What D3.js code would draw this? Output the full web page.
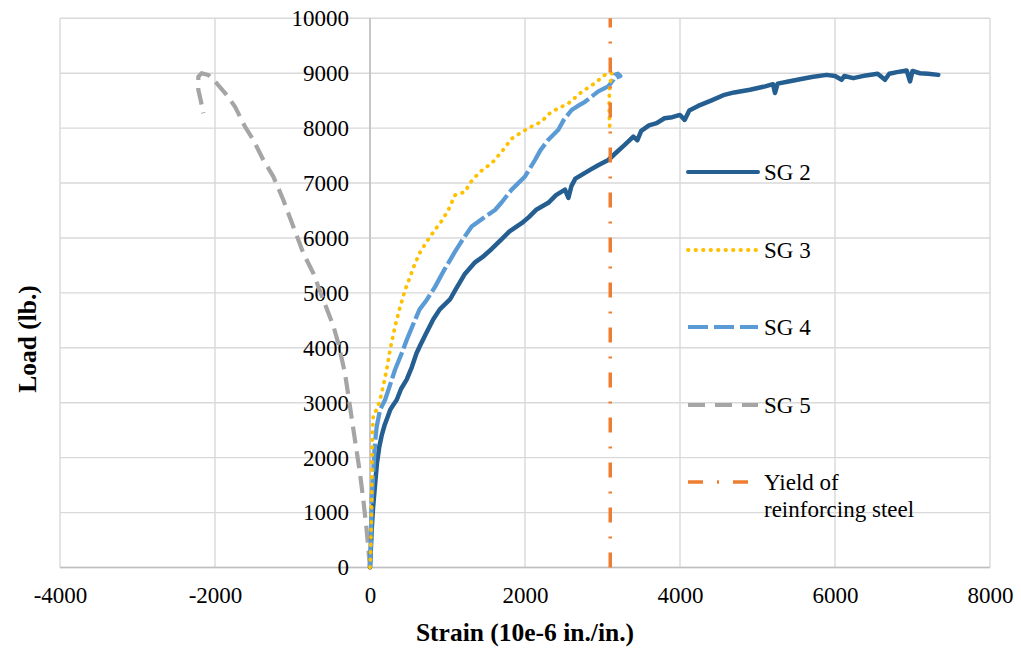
<!DOCTYPE html>
<html>
<head>
<meta charset="utf-8">
<script src="https://cdn.jsdelivr.net/npm/d3@7"></script>
<style>
  html, body { margin: 0; padding: 0; background: #ffffff; }
  svg { display: block; }
</style>
</head>
<body>
<svg id="chart" width="1021" height="656"></svg>
<script>
// ---- Data ----
const xTicks = [-4000, -2000, 0, 2000, 4000, 6000, 8000];
const yTicks = [0, 1000, 2000, 3000, 4000, 5000, 6000, 7000, 8000, 9000, 10000];
const seriesNames = ["SG 2", "SG 3", "SG 4", "SG 5"];
const yieldLabel = ["Yield of", "reinforcing steel"];
const yieldStrain = 3100;

const sg2Strain = [0,10,22,40,65,90,120,150,190,230,260,300,344,400,473,540,600,650,720,817,900,1032,1100,1226,1350,1450,1570,1700,1800,1957,2050,2150,2301,2400,2516,2560,2600,2650,2731,2850,2950,3075,3150,3290,3398,3450,3500,3600,3699,3800,3900,4000,4060,4120,4258,4400,4559,4700,4903,5100,5200,5226,5260,5400,5548,5700,5892,6000,6086,6120,6236,6400,6550,6645,6700,6800,6925,6968,7000,7097,7200,7333];
const sg2Load   = [0,300,700,1100,1500,1900,2200,2400,2600,2750,2870,2960,3050,3250,3420,3650,3900,4050,4250,4520,4700,4880,5050,5350,5550,5650,5800,5980,6120,6270,6380,6520,6640,6780,6880,6730,6950,7080,7150,7250,7330,7420,7520,7700,7845,7780,7950,8050,8090,8180,8200,8240,8150,8320,8420,8500,8600,8650,8700,8760,8800,8640,8810,8850,8890,8930,8970,8950,8880,8950,8910,8960,8990,8880,8990,9020,9050,8850,9040,9000,8990,8970];

const sg3Strain = [0,10,18,22,26,30,43,86,129,170,215,258,323,380,452,520,581,650,731,839,920,1011,1097,1226,1290,1355,1450,1570,1699,1828,1950,2043,2215,2300,2387,2559,2650,2731,2903,3032,3118,3090,3085,3090,3097];
const sg3Load   = [0,400,900,1300,1900,2400,2800,2870,3050,3300,3600,3960,4390,4700,5050,5300,5540,5750,5930,6150,6300,6510,6780,6840,7000,7110,7240,7360,7570,7810,7920,8000,8120,8250,8330,8450,8560,8660,8820,8970,9000,8700,8400,8100,7970];

const sg4Strain = [0,12,22,40,56,70,86,129,194,260,323,409,473,581,640,731,839,950,1097,1200,1312,1450,1613,1700,1828,2000,2129,2200,2301,2430,2500,2602,2700,2774,2946,3075,3140,3161,3200,3230,3180];
const sg4Load   = [0,500,1230,1700,2080,2350,2560,2870,3050,3330,3600,3900,4140,4510,4700,4870,5110,5400,5750,5980,6210,6350,6510,6650,6880,7120,7420,7600,7790,7970,8150,8330,8420,8480,8670,8760,8880,8970,8990,8950,8920];

const sg5Strain = [0,-43,-86,-129,-194,-258,-323,-409,-473,-602,-731,-860,-989,-1118,-1247,-1376,-1505,-1613,-1742,-1849,-1978,-2086,-2172,-2215,-2215,-2185,-2150];
const sg5Load   = [0,683,1229,1715,2322,2928,3536,4082,4400,4871,5357,5722,6206,6692,7117,7421,7785,8027,8391,8604,8817,8969,9000,8938,8695,8513,8271];

// ---- Layout ----
const W = 1021, H = 656;
const plot = { left: 60, right: 990, top: 18.3, bottom: 567.5 };
const svg = d3.select("#chart");
svg.append("rect").attr("width", W).attr("height", H).attr("fill", "#ffffff");

const x = d3.scaleLinear().domain([-4000, 8000]).range([plot.left, plot.right]);
const y = d3.scaleLinear().domain([0, 10000]).range([plot.bottom, plot.top]);

const FONT = "'Liberation Serif', 'Times New Roman', serif";

// gridlines
const grid = svg.append("g");
grid.selectAll("line.vg").data(xTicks).join("line")
  .attr("x1", d => x(d)).attr("x2", d => x(d))
  .attr("y1", plot.top).attr("y2", plot.bottom)
  .attr("stroke", "#d9d9d9").attr("stroke-width", 1.4);
grid.selectAll("line.hg").data(yTicks).join("line")
  .attr("x1", plot.left).attr("x2", plot.right)
  .attr("y1", d => y(d)).attr("y2", d => y(d))
  .attr("stroke", "#d9d9d9").attr("stroke-width", 1.4);

// axis lines
svg.append("line").attr("x1", x(0)).attr("x2", x(0)).attr("y1", plot.top).attr("y2", plot.bottom)
  .attr("stroke", "#bfbfbf").attr("stroke-width", 1.6);
svg.append("line").attr("x1", plot.left).attr("x2", plot.right).attr("y1", y(0)).attr("y2", y(0))
  .attr("stroke", "#bfbfbf").attr("stroke-width", 1.6);

// axes (labels only)
const xAxis = svg.append("g").attr("transform", `translate(0,${y(0)})`)
  .call(d3.axisBottom(x).tickValues(xTicks).tickSize(0).tickPadding(19).tickFormat(d3.format("d")));
const yAxis = svg.append("g").attr("transform", `translate(${x(0)},0)`)
  .call(d3.axisLeft(y).tickValues(yTicks).tickSize(0).tickPadding(21).tickFormat(d3.format("d")));
[xAxis, yAxis].forEach(a => {
  a.select(".domain").remove();
  a.selectAll("text").attr("font-family", FONT).attr("font-size", 23).attr("fill", "#000");
});
xAxis.selectAll("text").text(d => d < 0 ? "-" + Math.abs(d) : d);

// axis titles
svg.append("text").attr("x", (plot.left + plot.right) / 2).attr("y", 641)
  .attr("text-anchor", "middle").attr("font-family", FONT).attr("font-weight", "bold")
  .attr("font-size", 25.5).text("Strain (10e-6 in./in.)");
svg.append("text").attr("transform", `translate(36,339) rotate(-90)`)
  .attr("text-anchor", "middle").attr("font-family", FONT).attr("font-weight", "bold")
  .attr("font-size", 25.5).text("Load (lb.)");

// series
const styles = [
  { color: "#255e91", width: 4.5, dash: null, cap: "round" },
  { color: "#ffc000", width: 3.8, dash: "0.5,7", cap: "round" },
  { color: "#5b9bd5", width: 4.3, dash: "28,4", cap: "butt" },
  { color: "#a5a5a5", width: 4.2, dash: "17,8", cap: "butt" }
];
const legendDash = ["", "0.5,7", "20,6", "17,10"];
const seriesData = [
  d3.zip(sg2Strain, sg2Load),
  d3.zip(sg3Strain, sg3Load),
  d3.zip(sg4Strain, sg4Load),
  d3.zip(sg5Strain, sg5Load)
];
const line = d3.line().x(d => x(d[0])).y(d => y(d[1]));

[3, 0, 2, 1].forEach(i => {
  svg.append("path").datum(seriesData[i])
    .attr("d", line).attr("fill", "none")
    .attr("stroke", styles[i].color).attr("stroke-width", styles[i].width)
    .attr("stroke-linejoin", "round").attr("stroke-linecap", styles[i].cap)
    .attr("stroke-dasharray", styles[i].dash);
});

// yield line
const yieldData = [[yieldStrain, 0], [yieldStrain, 10000]];
svg.append("path").datum(yieldData).attr("d", line).attr("fill", "none")
  .attr("stroke", "#ed7d31").attr("stroke-width", 3.5)
  .attr("stroke-dasharray", "15,14,2,14");

// legend
const legX1 = 688, legX2 = 758, legTX = 764;
const legY = [172, 250, 327, 405];
seriesNames.forEach((name, i) => {
  svg.append("line").attr("x1", legX1).attr("x2", legX2).attr("y1", legY[i]).attr("y2", legY[i])
    .attr("stroke", styles[i].color).attr("stroke-width", Math.min(styles[i].width, 4))
    .attr("stroke-linecap", styles[i].cap).attr("stroke-dasharray", legendDash[i] || null);
  svg.append("text").attr("x", legTX).attr("y", legY[i]).attr("dy", "0.35em")
    .attr("font-family", FONT).attr("font-size", 23).text(name);
});
svg.append("line").attr("x1", legX1).attr("x2", legX2).attr("y1", 482).attr("y2", 482)
  .attr("stroke", "#ed7d31").attr("stroke-width", 3.5).attr("stroke-dasharray", "15,14,2,14");
yieldLabel.forEach((t, k) => {
  svg.append("text").attr("x", legTX).attr("y", 482 + k * 27).attr("dy", "0.35em")
    .attr("font-family", FONT).attr("font-size", 23).text(t);
});
</script>
</body>
</html>
